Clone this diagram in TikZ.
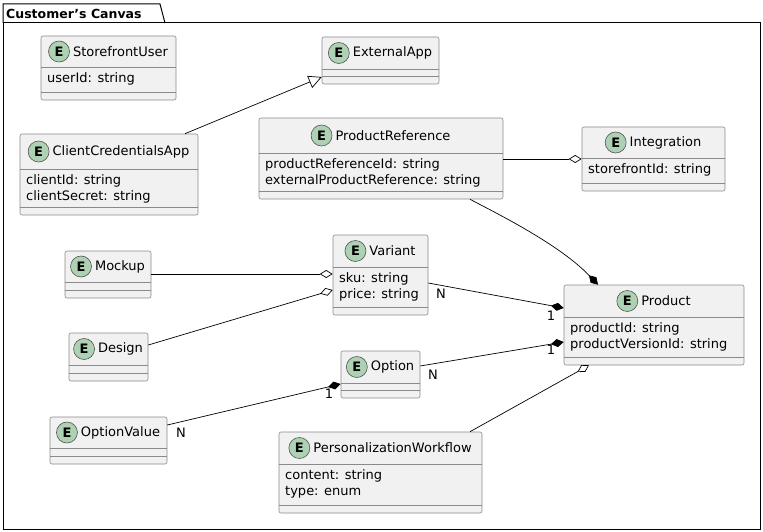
\documentclass[tikz,border=0pt]{standalone}
\usepackage{fontspec}
\setmainfont{DejaVu Sans}
\usetikzlibrary{arrows.meta,positioning}
\definecolor{boxfill}{HTML}{F1F1F1}
\definecolor{boxline}{HTML}{8A8A8A}
\definecolor{ecol}{HTML}{ADD1B2}
\tikzset{
  box/.style={draw=boxline, fill=boxfill, rounded corners=2pt, line width=0.6pt, inner sep=0pt},
  sep/.style={draw=boxline, line width=0.6pt},
  ttl/.style={font=\fontsize{13}{15}\selectfont, inner sep=0pt},
  ecirc/.style={circle, draw=boxline!60!black, fill=ecol, line width=0.6pt, minimum size=21pt, inner sep=0pt, font=\fontsize{13}{15}\selectfont\bfseries},
  attrs/.style={font=\fontsize{13}{16}\selectfont, align=left, inner xsep=4pt, inner ysep=5pt, anchor=north west},
  lbl/.style={font=\fontsize{13}{15}\selectfont, inner sep=0pt},
  conn/.style={line width=0.7pt, black},
  odia/.style={-{Diamond[open,length=13pt,width=8pt]}},
  fdia/.style={-{Diamond[length=13pt,width=8pt]}},
  otri/.style={-{Triangle[open,length=13pt,width=13pt]}},
}
\newcommand\ent[9]{%
  \node[box, minimum width={(#4-#2)*1pt}, minimum height={(#5-#3)*1pt}] (#1) at ({(#2+#4)/2},{(#3+#5)/2}) {};
  \draw[sep] (#2,#6) -- (#4,#6);
  \draw[sep] (#2,#7) -- (#4,#7);
  \node[ttl] (#1-t) at ({(#2+#4)/2+12},{(#3+#6)/2}) {#8};
  \node[ecirc, left=3pt of #1-t] (#1-e) {E};
  \node[attrs] (#1-a) at (#2+2,#6) {#9};
}
\begin{document}
\begin{tikzpicture}[x=1pt,y=-1pt]
\useasboundingbox (0,0) rectangle (763,532);
% package frame
\draw[line width=1pt] (3,23) rectangle (760,529);
\draw[line width=1pt] (3,23) -- (3,4) -- (160,4) -- (165,23);
\node[anchor=west, inner sep=0pt, font=\fontsize{12.5}{14}\selectfont\bfseries] (pkg) at (6,13.5) {Customer\char"0027 s Canvas};

\ent{sfu}{41}{36}{176}{100}{67}{92}{StorefrontUser}{userId: string}
\ent{ext}{322}{37}{439}{84}{69}{76}{ExternalApp}{}
\ent{cca}{20}{134}{198}{215}{169}{207}{ClientCredentialsApp}{clientId: string\\clientSecret: string}
\ent{pref}{259}{118}{503}{199}{153}{191}{ProductReference}{productReferenceId: string\\externalProductReference: string}
\ent{integ}{582}{127}{725}{191}{158}{183}{Integration}{storefrontId: string}
\ent{mock}{65}{251}{151}{298}{282}{290}{Mockup}{}
\ent{var}{333}{235}{428}{315}{267}{307}{Variant}{sku: string\\price: string}
\ent{des}{69}{333}{148}{381}{365}{373}{Design}{}
\ent{prod}{564}{285}{744}{365}{317}{357}{Product}{productId: string\\productVersionId: string}
\ent{opt}{341}{351}{420}{398}{383}{390}{Option}{}
\ent{ov}{50}{417}{167}{464}{448}{456}{OptionValue}{}
\ent{pw}{279}{432}{482}{513}{464}{505}{PersonalizationWorkflow}{content: string\\type: enum}

% connectors
\draw[conn,otri] (cca.north-|185,0) -- (ext.west|-0,77);
\draw[conn,odia] (pref.east|-0,159) -- (integ.west|-0,159);
\draw[conn,fdia] (pref.south-|470,0) .. controls (500,215) and (560,245) .. (prod.north-|598,0);
\draw[conn,odia] (mock.east|-0,274) -- (var.west|-0,274);
\draw[conn,odia] (des.east|-0,345) -- (var.west|-0,290);
\draw[conn,fdia] (var.east|-0,283) -- (prod.west|-0,308);
\draw[conn,fdia] (opt.east|-0,366) -- (prod.west|-0,342);
\draw[conn,fdia] (ov.east|-0,425) -- (opt.west|-0,384);
\draw[conn,odia] (pw.north-|470,0) -- (prod.south-|589,0);
\node[lbl] (l1) at (441,294) {N};
\node[lbl] (l2) at (551,316) {1};
\node[lbl] (l3) at (433,375) {N};
\node[lbl] (l4) at (551,350) {1};
\node[lbl] (l5) at (181,433) {N};
\node[lbl] (l6) at (329,394) {1};
\end{tikzpicture}
\end{document}
